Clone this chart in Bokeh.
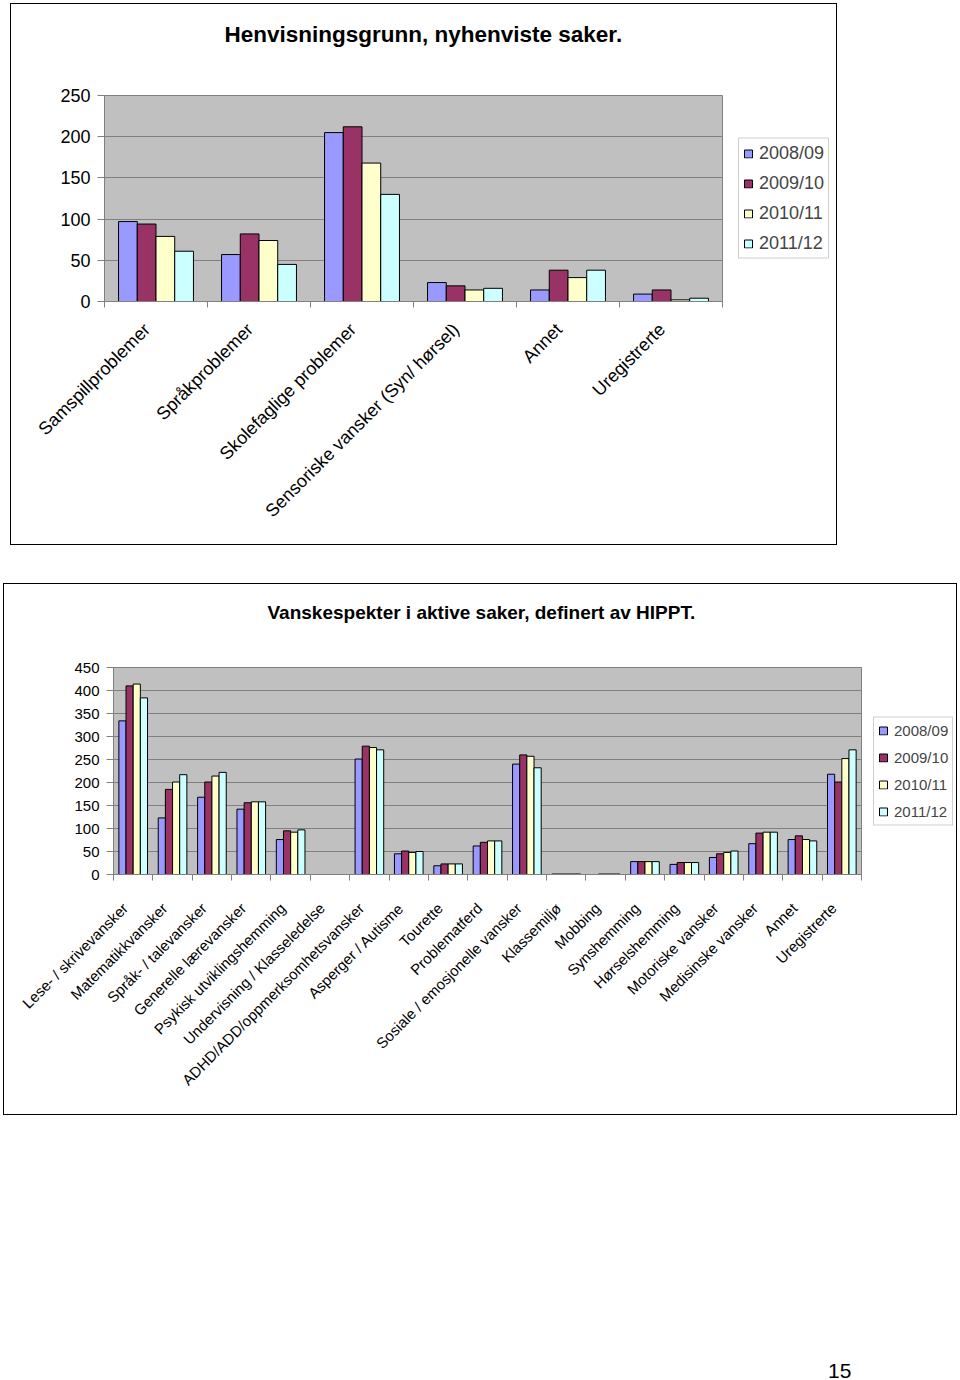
import math
from bokeh.plotting import figure
from bokeh.models import (ColumnDataSource, Range1d, FixedTicker, Legend, LegendItem,
                          Title, Div, Spacer)
from bokeh.layouts import column, row
from bokeh.embed import file_html
from bokeh.resources import INLINE

FONT = "Liberation Sans"

series_names = ["2008/09", "2009/10", "2010/11", "2011/12"]
series_colors = ["#9999FF", "#993366", "#FFFFCC", "#CCFFFF"]

# ---- Chart 1: Henvisningsgrunn, nyhenviste saker ----
top_title = "Henvisningsgrunn, nyhenviste saker."
top_categories = ["Samspillproblemer", "Språkproblemer", "Skolefaglige problemer",
                  "Sensoriske vansker (Syn/ hørsel)", "Annet", "Uregistrerte"]
top_2008_09 = [97, 57, 205, 23, 14, 9]
top_2009_10 = [94, 82, 212, 19, 38, 14]
top_2010_11 = [79, 74, 168, 14, 29, 2]
top_2011_12 = [61, 45, 130, 16, 38, 4]
top_yticks = [0, 50, 100, 150, 200, 250]

# ---- Chart 2: Vanskespekter i aktive saker ----
bot_title = "Vanskespekter i aktive saker, definert av HIPPT."
bot_categories = ["Lese- / skrivevansker", "Matematikkvansker", "Språk- / talevansker",
                  "Generelle lærevansker", "Psykisk utviklingshemming",
                  "Undervisning / Klasseledelse", "ADHD/ADD/oppmerksomhetsvansker",
                  "Asperger / Autisme", "Tourette", "Problematferd",
                  "Sosiale / emosjonelle vansker", "Klassemiljø", "Mobbing",
                  "Synshemming", "Hørselshemming", "Motoriske vansker",
                  "Medisinske vansker", "Annet", "Uregistrerte"]
bot_2008_09 = [334, 123, 168, 142, 76, 0, 251, 45, 19, 62, 240, 1, 0, 28, 22, 37, 67, 76, 218]
bot_2009_10 = [410, 185, 201, 156, 95, 0, 279, 51, 23, 70, 260, 1, 1, 28, 26, 45, 90, 84, 201]
bot_2010_11 = [414, 201, 214, 158, 92, 0, 276, 48, 23, 73, 257, 1, 1, 28, 26, 48, 92, 76, 252]
bot_2011_12 = [384, 217, 222, 158, 97, 0, 271, 50, 23, 73, 232, 1, 1, 28, 26, 51, 92, 73, 271]
bot_yticks = [0, 50, 100, 150, 200, 250, 300, 350, 400, 450]

BAR_W = 1 / 5.5


def build_chart(categories, values_list, yticks, width, height, borders, tick_fs, cat_fs,
                cat_standoff, label_shift_px, title, title_fs, title_offset, title_gap):
    n = len(categories)
    ymax = yticks[-1]
    p = figure(width=width, height=height, x_range=Range1d(0, n), y_range=Range1d(0, ymax),
               output_backend="svg", toolbar_location=None,
               min_border_left=borders[0], min_border_right=borders[1],
               min_border_top=borders[2], min_border_bottom=borders[3])
    p.background_fill_color = "#C0C0C0"
    p.border_fill_color = "white"
    p.outline_line_color = "#808080"
    p.outline_line_width = 1
    p.xgrid.visible = False
    p.ygrid.ticker = FixedTicker(ticks=yticks)
    p.ygrid.grid_line_color = "#808080"
    p.ygrid.grid_line_width = 1

    sources = []
    for j, vals in enumerate(values_list):
        idx = [i for i, v in enumerate(vals) if v > 0]
        src = ColumnDataSource(dict(x=[i + 0.5 + (j - 1.5) * BAR_W for i in idx],
                                    top=[vals[i] for i in idx]))
        p.vbar(x="x", top="top", width=BAR_W, source=src, fill_color=series_colors[j],
               line_color="black", line_width=1)
        sources.append(src)

    yax = p.yaxis[0]
    yax.ticker = FixedTicker(ticks=yticks)
    yax.axis_line_color = "#808080"
    yax.major_tick_line_color = "#808080"
    yax.major_tick_out = 7
    yax.major_tick_in = 0
    yax.minor_tick_line_color = None
    yax.major_label_standoff = 7
    yax.major_label_text_font = FONT
    yax.major_label_text_font_size = tick_fs
    yax.major_label_text_color = "black"

    # category labels: anchored slightly left of each category centre, like the original
    frame_w = width - borders[0] - borders[1]
    shift = label_shift_px / (frame_w / n)
    anchors = [i + 0.5 - shift for i in range(n)]
    xax = p.xaxis[0]
    xax.ticker = FixedTicker(ticks=anchors, minor_ticks=list(range(n + 1)))
    xax.major_label_overrides = {a: lab for a, lab in zip(anchors, categories)}
    xax.axis_line_color = "#808080"
    xax.major_tick_line_color = None
    xax.major_tick_out = 0
    xax.major_tick_in = 0
    xax.minor_tick_line_color = "#808080"
    xax.minor_tick_out = 6
    xax.minor_tick_in = 0
    xax.major_label_orientation = math.pi / 4
    xax.major_label_standoff = cat_standoff
    xax.major_label_text_font = FONT
    xax.major_label_text_font_size = cat_fs
    xax.major_label_text_color = "black"

    # empty gap panel between plot area and the chart title
    p.add_layout(Title(text=" ", text_font_size="10px", standoff=title_gap), "above")
    p.add_layout(Title(text=title, text_font=FONT, text_font_style="bold",
                       text_font_size=title_fs, text_color="black", align="left",
                       offset=title_offset, standoff=0, vertical_align="bottom"), "above")
    return p, sources


def build_legend(sources, width, height, top_b, bottom_b, leg_margin, leg_fs, leg_label_h,
                 leg_spacing, leg_pad):
    # legend panel: shares the bar sources, but its x view lies outside the data,
    # so only the legend itself is drawn here
    q = figure(width=width, height=height, x_range=Range1d(-3, -2), y_range=Range1d(0, 1),
               output_backend="svg", toolbar_location=None, x_axis_type=None,
               y_axis_type=None, min_border_left=0, min_border_right=0,
               min_border_top=top_b, min_border_bottom=bottom_b)
    q.outline_line_color = None
    q.background_fill_color = "white"
    q.border_fill_color = "white"
    q.grid.visible = False
    items = []
    for j, name in enumerate(series_names):
        r = q.vbar(x="x", top="top", width=BAR_W, source=sources[j],
                   fill_color=series_colors[j], line_color="black", line_width=1)
        items.append(LegendItem(label=name, renderers=[r]))
    leg = Legend(items=items, location="center_left", orientation="vertical",
                 glyph_width=10, glyph_height=10, label_text_font=FONT,
                 label_text_font_size=leg_fs, label_height=leg_label_h,
                 spacing=leg_spacing, padding=leg_pad, label_standoff=6, margin=leg_margin,
                 border_line_color="#A0A0A0", border_line_width=1,
                 background_fill_color="white", background_fill_alpha=1.0)
    q.add_layout(leg)
    return q


p1, s1 = build_chart(top_categories, [top_2008_09, top_2009_10, top_2010_11, top_2011_12],
                     top_yticks, width=712, height=540, borders=(93, 1, 91, 243),
                     tick_fs="18px", cat_fs="18px", cat_standoff=19, label_shift_px=9,
                     title=top_title, title_fs="22.5px", title_offset=120, title_gap=36)
l1 = build_legend(s1, 113, 540, 91, 243, 15, "18px", 21, 9, 4)

p2, s2 = build_chart(bot_categories, [bot_2008_09, bot_2009_10, bot_2010_11, bot_2011_12],
                     bot_yticks, width=858, height=530, borders=(109, 1, 83, 240),
                     tick_fs="15px", cat_fs="15px", cat_standoff=25, label_shift_px=8,
                     title=bot_title, title_fs="19px", title_offset=154, title_gap=32)
l2 = build_legend(s2, 94, 530, 83, 240, 11, "15px", 18, 9, 4)

page_no = Div(text="15", width=40, height=23,
              styles={"font-family": FONT, "font-size": "21px", "color": "black"})

box1 = row(p1, l1, styles={"outline": "1px solid black"})
box2 = row(p2, l2, styles={"outline": "1px solid black"})

layout = column(
    Spacer(height=4),
    row(Spacer(width=11, height=540), box1),
    Spacer(height=40),
    row(Spacer(width=4, height=530), box2),
    Spacer(height=237),
    row(Spacer(width=823, height=23), page_no),
)

with open("out.html", "w") as f:
    f.write(file_html(layout, INLINE))
